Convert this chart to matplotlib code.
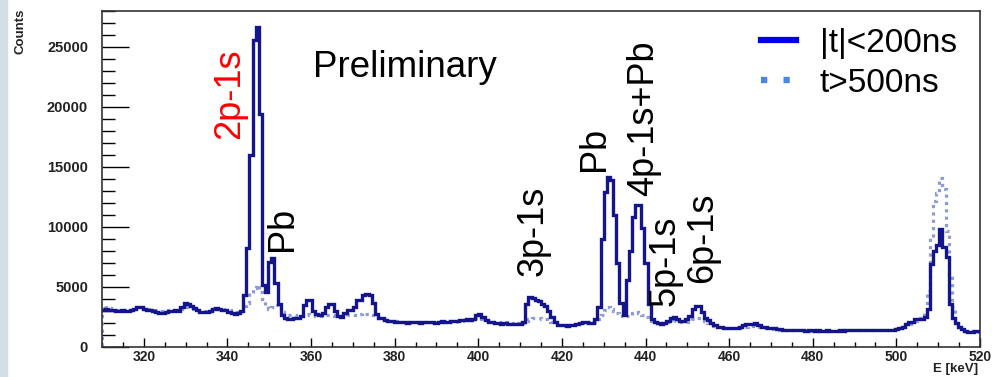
import numpy as np
import matplotlib
matplotlib.use("Agg")
import matplotlib.pyplot as plt
from matplotlib.lines import Line2D
from matplotlib.patches import Rectangle
from matplotlib.ticker import MultipleLocator

plt.rcParams['font.family'] = ['Liberation Sans', 'DejaVu Sans']

# histogram binning: 310 - 520 keV, 0.75 keV per bin
e_min = 310
e_max = 520
n_bins = 280

# |t|<200ns  (prompt), 10 bins per row
prompt = [
    3100, 3150, 3100, 3050, 3000, 3000, 3050, 3000, 3000, 3050,
    3200, 3350, 3300, 3150, 3100, 3050, 3000, 2950, 2850, 2850,
    2950, 3000, 3000, 3050, 3000, 3350, 3650, 3550, 3400, 3250,
    3050, 2950, 2900, 2900, 3000, 3200, 3250, 3200, 3100, 3050,
    2900, 2800, 2750, 2800, 3000, 4300, 8250, 16000, 25600, 26700,
    19400, 5200, 4600, 7100, 7400, 5300, 3600, 2700, 2400, 2350,
    2350, 2400, 2450, 2600, 3500, 3950, 3900, 3000, 2750, 2700,
    2800, 3350, 3600, 3550, 3000, 2550, 2500, 2800, 3050, 3050,
    3300, 3950, 3950, 4300, 4400, 4350, 3650, 2750, 2450, 2400,
    2250, 2200, 2150, 2100, 2100, 2050, 2050, 2000, 2050, 2050,
    2050, 2000, 2100, 2050, 2050, 2100, 2000, 2050, 2150, 2100,
    2100, 2150, 2150, 2200, 2250, 2250, 2300, 2250, 2350, 2700,
    2750, 2500, 2250, 2100, 2050, 2000, 2000, 1950, 2000, 1950,
    1950, 1900, 1950, 1900, 2100, 3600, 4150, 4100, 3900, 3800,
    3550, 3400, 3000, 2500, 2100, 1850, 1800, 1800, 1750, 1800,
    1850, 1900, 2000, 2050, 2100, 2000, 2000, 2300, 3300, 9000,
    12900, 14200, 13900, 11000, 7000, 3700, 2700, 5600, 8000, 10800,
    11850, 11800, 9900, 7000, 3600, 2300, 2100, 2000, 1950, 2000,
    2150, 2400, 2500, 2350, 2200, 2200, 2350, 2600, 3200, 3450,
    3450, 2900, 2450, 2250, 2000, 1800, 1700, 1650, 1600, 1600,
    1600, 1550, 1600, 1650, 1800, 1900, 1900, 1950, 2000, 1850,
    1700, 1650, 1600, 1550, 1550, 1500, 1500, 1450, 1450, 1400,
    1400, 1450, 1400, 1400, 1350, 1400, 1400, 1350, 1400, 1350,
    1350, 1400, 1350, 1300, 1350, 1400, 1350, 1450, 1400, 1450,
    1400, 1450, 1400, 1450, 1400, 1400, 1450, 1400, 1400, 1450,
    1400, 1450, 1450, 1500, 1600, 1700, 1900, 2050, 2100, 2300,
    2300, 2350, 2500, 3200, 6900, 8000, 8500, 9800, 8300, 7500,
    3600, 2400, 2000, 1700, 1500, 1300, 1250, 1250, 1300, 1300,
]

# t>500ns  (delayed)
delayed = [
    3400, 3350, 3250, 3150, 3100, 3100, 3100, 3050, 3050, 3100,
    3200, 3300, 3300, 3200, 3150, 3100, 3050, 3050, 3000, 3000,
    3050, 3100, 3100, 3100, 3050, 3200, 3350, 3350, 3300, 3200,
    3100, 3050, 3000, 3000, 3050, 3150, 3200, 3200, 3150, 3100,
    3050, 2950, 2900, 2900, 3000, 3400, 3700, 4500, 4900, 5200,
    4600, 4000, 3400, 3200, 3300, 3500, 3300, 2900, 2750, 2700,
    2650, 2650, 2600, 2600, 2700, 2750, 2700, 2650, 2600, 2600,
    2600, 2650, 2700, 2650, 2600, 2550, 2550, 2600, 2650, 2650,
    2700, 2700, 2750, 2800, 2750, 2700, 2650, 2550, 2450, 2350,
    2250, 2200, 2150, 2150, 2100, 2100, 2100, 2050, 2100, 2100,
    2100, 2050, 2100, 2100, 2050, 2100, 2050, 2100, 2150, 2100,
    2100, 2150, 2100, 2200, 2200, 2250, 2250, 2250, 2300, 2400,
    2450, 2350, 2250, 2150, 2100, 2050, 2050, 2000, 2050, 2000,
    2000, 1950, 2000, 1950, 2000, 2200, 2350, 2450, 2400, 2400,
    2350, 2300, 2200, 2100, 2000, 1900, 1850, 1850, 1800, 1850,
    1850, 1900, 1950, 2000, 2050, 2000, 2000, 2100, 2300, 2700,
    3100, 3300, 3200, 3000, 2800, 2600, 2500, 2550, 2700, 2850,
    2900, 2850, 2700, 2500, 2300, 2150, 2050, 2000, 1950, 2000,
    2050, 2100, 2150, 2100, 2050, 2050, 2100, 2200, 2300, 2400,
    2400, 2300, 2150, 2000, 1850, 1750, 1650, 1600, 1600, 1600,
    1550, 1550, 1550, 1600, 1650, 1700, 1750, 1750, 1750, 1700,
    1650, 1600, 1550, 1550, 1500, 1500, 1450, 1450, 1450, 1400,
    1400, 1400, 1400, 1350, 1350, 1400, 1350, 1400, 1350, 1350,
    1350, 1400, 1350, 1350, 1350, 1350, 1400, 1400, 1400, 1450,
    1400, 1400, 1450, 1400, 1400, 1450, 1400, 1400, 1450, 1400,
    1400, 1400, 1450, 1500, 1550, 1650, 1800, 1950, 2050, 2200,
    2300, 2450, 2800, 4700, 9100, 12200, 12800, 14100, 13200, 9700,
    6100, 3300, 2000, 1650, 1450, 1350, 1300, 1300, 1250, 1250,
]

# peak labels: text, energy (keV), counts at text bottom, colour
peak_labels = ["2p-1s", "Pb", "3p-1s", "Pb", "4p-1s+Pb", "5p-1s", "6p-1s"]
peak_x = [340.6, 353.1, 413.2, 427.8, 439.6, 444.6, 453.6]
peak_y = [17300, 8000, 5950, 14700, 12600, 3450, 5300]
peak_colors = ["red", "black", "black", "black", "black", "black", "black"]

legend_labels = ["|t|<200ns", "t>500ns"]

edges = np.linspace(e_min, e_max, n_bins + 1)

fig = plt.figure(figsize=(9.94, 3.77), dpi=100)
fig.patches.append(Rectangle((0, 0), 7 / 994, 1, transform=fig.transFigure,
                             color="#d3dee6", zorder=0))
ax = fig.add_axes([102 / 994, 1 - 347 / 377, (980 - 102) / 994, (347 - 11) / 377])

ax.stairs(delayed, edges, baseline=0, color="#8c9bd6", linewidth=2.3,
          linestyle=(0, (1, 1.3)), zorder=2)
ax.stairs(prompt, edges, baseline=None, color="#14148c", linewidth=2.4, zorder=3)

ax.set_xlim(e_min, e_max)
ax.set_ylim(0, 28000)

ax.xaxis.set_major_locator(MultipleLocator(20))
ax.xaxis.set_minor_locator(MultipleLocator(5))
ax.yaxis.set_major_locator(MultipleLocator(5000))
ax.yaxis.set_minor_locator(MultipleLocator(1000))
ax.tick_params(axis="x", which="major", direction="in", length=6.5, width=1,
               labelsize=10, pad=2)
ax.tick_params(axis="x", which="minor", direction="in", length=3.6, width=1)
ax.tick_params(axis="y", which="major", direction="in", length=19.5, width=1,
               labelsize=10.5, pad=10)
ax.tick_params(axis="y", which="minor", direction="in", length=9.7, width=1)
for lab in ax.get_xticklabels() + ax.get_yticklabels():
    lab.set_fontweight("bold")
    lab.set_color("#222222")
for sp in ax.spines.values():
    sp.set_linewidth(1.2)
    sp.set_color("#333333")

fig.text(21 / 994, 1 - 9 / 377, "Counts", rotation=90, ha="center", va="top",
         fontsize=9.5, fontweight="bold", color="#222222")
fig.text(978 / 994, 1 - 363 / 377, "E [keV]", ha="right", va="top",
         fontsize=9.5, fontweight="bold", color="#222222")

ax.text(360.5, 22480, "Preliminary", fontsize=26.5, ha="left", va="baseline")

for lab, x, y, c in zip(peak_labels, peak_x, peak_y, peak_colors):
    ax.text(x, y, lab, rotation=90, ha="center", va="bottom", fontsize=26, color=c)

handles = [Line2D([], [], color="#0000ee", linewidth=4.5),
           Line2D([], [], color="#4a86e8", linewidth=4.5, linestyle=(0, (1, 2.6)))]
ax.legend(handles, legend_labels, loc="upper right", bbox_to_anchor=(1.0, 1.02),
          frameon=False, fontsize=24, handlelength=1.05, handletextpad=0.7,
          labelspacing=0.28, borderaxespad=0.3)

fig.savefig("out.png", dpi=100)
